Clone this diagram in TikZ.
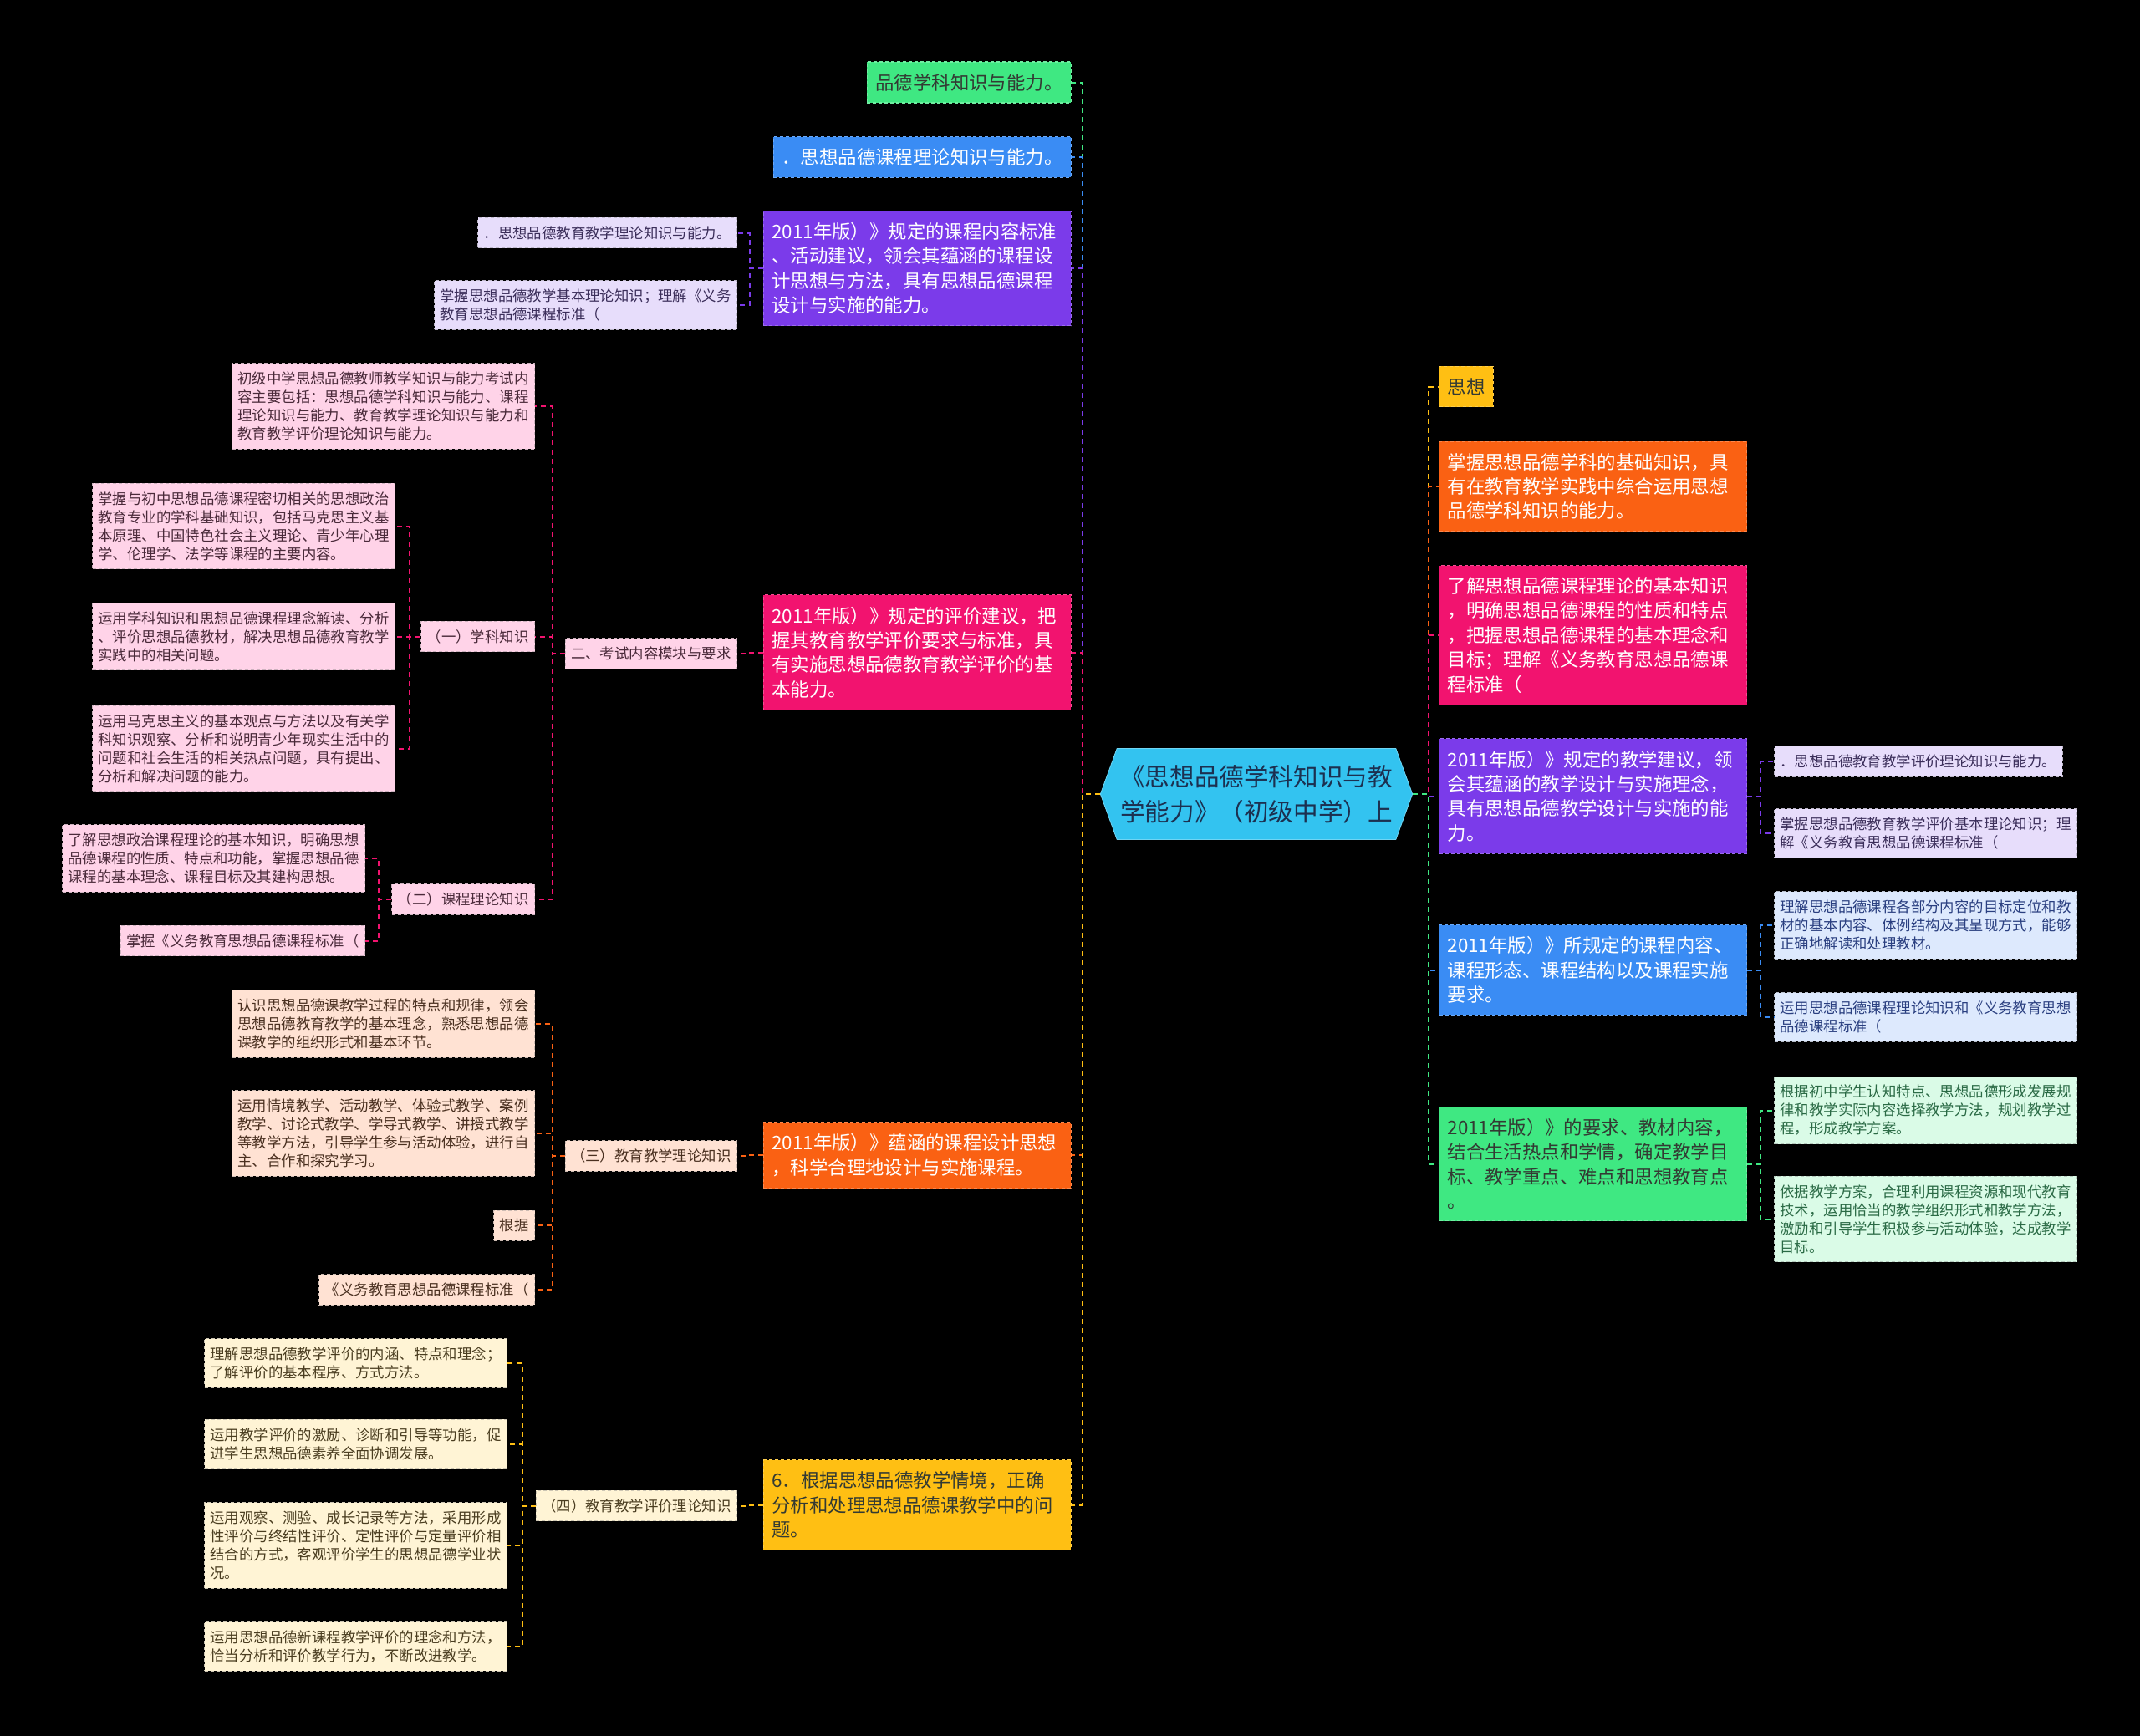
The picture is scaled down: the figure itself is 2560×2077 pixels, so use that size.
\documentclass[tikz,border=0pt]{standalone}
\usepackage{fontspec}
\setmainfont{Noto Sans CJK SC}
\usepackage{tikz}
\usetikzlibrary{shapes.symbols}
\definecolor{mapgreen}{HTML}{3FE882}
\definecolor{mapblue}{HTML}{3A8CF4}
\definecolor{mappurple}{HTML}{7B3BEA}
\definecolor{mapmagenta}{HTML}{F2136F}
\definecolor{maporange}{HTML}{FA6113}
\definecolor{mapyellow}{HTML}{FFBF13}
\definecolor{mapcyan}{HTML}{33C3F0}
\definecolor{lilac}{HTML}{E7DDFB}
\definecolor{rose}{HTML}{FFD3E8}
\definecolor{peach}{HTML}{FFE2D3}
\definecolor{cream}{HTML}{FFF4D5}
\definecolor{skylight}{HTML}{DDE9FD}
\definecolor{mint}{HTML}{DAFBE7}
\definecolor{rootink}{HTML}{1C3050}
\definecolor{darkink}{HTML}{333A33}
\definecolor{lilacink}{HTML}{3B2E5A}
\definecolor{roseink}{HTML}{4A2A3A}
\definecolor{peachink}{HTML}{4A3020}
\definecolor{creamink}{HTML}{4A3D20}
\definecolor{skyink}{HTML}{2A3F80}
\definecolor{mintink}{HTML}{2A6A45}

\begin{document}
\begin{tikzpicture}[
        x=0.5pt, y=-0.5pt,
        root/.style={shape=signal, signal to=west and east, signal pointer angle=140, fill=mapcyan, draw=mapcyan!70!white, minimum width=184pt, minimum height=54.5pt, inner sep=2pt, align=left, text=rootink, font=\fontsize{14.8}{21}\selectfont},
        branch/.style={fill=#1, draw=#1!75!white, dash pattern=on 2pt off 1.5pt, line width=0.6pt, inner xsep=5pt, inner ysep=7pt, align=left, text=white, font=\fontsize{11.2}{14.7}\selectfont},
        wbox/.style={text width=174pt},
        leaf/.style={fill=#1, draw=#1!60!gray, dash pattern=on 2pt off 1.5pt, line width=0.5pt, inner xsep=3.5pt, inner ysep=5pt, align=left, font=\fontsize{8.7}{11}\selectfont},
        link/.style={draw=#1, line width=1pt, dash pattern=on 3pt off 2.5pt},
        elbow/.style={to path={-- ++(#1,0) |- (\tikztotarget)}}
    ]
    \fill[black] (0,0) rectangle (2560,2077);

    \node[root] (root) at (1503,950) {《思想品德学科知识与教\\学能力》（初级中学）上};

    % left side
    \node[branch=mapgreen, text=darkink, anchor=east] (lknow) at (1282,98.5) {品德学科知识与能力。};
    \node[branch=mapblue, anchor=east] (ltheory) at (1282,188) {．思想品德课程理论知识与能力。};
    \node[branch=mappurple, wbox, anchor=east] (lcontent) at (1282,321) {2011年版）》规定的课程内容标准\\、活动建议，领会其蕴涵的课程设\\计思想与方法，具有思想品德课程\\设计与实施的能力。};
    \node[branch=mapmagenta, wbox, anchor=east] (leval) at (1282,780.5) {2011年版）》规定的评价建议，把\\握其教育教学评价要求与标准，具\\有实施思想品德教育教学评价的基\\本能力。};
    \node[branch=maporange, wbox, anchor=east] (ldesign) at (1282,1382) {2011年版）》蕴涵的课程设计思想\\，科学合理地设计与实施课程。};
    \node[branch=mapyellow, wbox, text=darkink, anchor=east] (lsitu) at (1282,1800.5) {6．根据思想品德教学情境，正确\\分析和处理思想品德课教学中的问\\题。};

    \node[leaf=lilac, text=lilacink, anchor=east] (cont1) at (882,278.5) {．思想品德教育教学理论知识与能力。};
    \node[leaf=lilac, text=lilacink, anchor=east] (cont2) at (882,365) {掌握思想品德教学基本理论知识；理解《义务\\教育思想品德课程标准（};

    \node[leaf=rose, text=roseink, anchor=east] (module) at (882,782) {二、考试内容模块与要求};
    \node[leaf=rose, text=roseink, anchor=east] (scope) at (640,486) {初级中学思想品德教师教学知识与能力考试内\\容主要包括：思想品德学科知识与能力、课程\\理论知识与能力、教育教学理论知识与能力和\\教育教学评价理论知识与能力。};
    \node[leaf=rose, text=roseink, anchor=east] (subj) at (640,761.5) {（一）学科知识};
    \node[leaf=rose, text=roseink, anchor=east] (course) at (640,1076) {（二）课程理论知识};
    \node[leaf=rose, text=roseink, anchor=east] (subj1) at (473,629.5) {掌握与初中思想品德课程密切相关的思想政治\\教育专业的学科基础知识，包括马克思主义基\\本原理、中国特色社会主义理论、青少年心理\\学、伦理学、法学等课程的主要内容。};
    \node[leaf=rose, text=roseink, anchor=east] (subj2) at (473,761.5) {运用学科知识和思想品德课程理念解读、分析\\、评价思想品德教材，解决思想品德教育教学\\实践中的相关问题。};
    \node[leaf=rose, text=roseink, anchor=east] (subj3) at (473,895.5) {运用马克思主义的基本观点与方法以及有关学\\科知识观察、分析和说明青少年现实生活中的\\问题和社会生活的相关热点问题，具有提出、\\分析和解决问题的能力。};
    \node[leaf=rose, text=roseink, anchor=east] (course1) at (437,1027) {了解思想政治课程理论的基本知识，明确思想\\品德课程的性质、特点和功能，掌握思想品德\\课程的基本理念、课程目标及其建构思想。};
    \node[leaf=rose, text=roseink, anchor=east] (course2) at (437,1125.5) {掌握《义务教育思想品德课程标准（};

    \node[leaf=peach, text=peachink, anchor=east] (pedag) at (882,1383) {（三）教育教学理论知识};
    \node[leaf=peach, text=peachink, anchor=east] (pedag1) at (640,1225) {认识思想品德课教学过程的特点和规律，领会\\思想品德教育教学的基本理念，熟悉思想品德\\课教学的组织形式和基本环节。};
    \node[leaf=peach, text=peachink, anchor=east] (pedag2) at (640,1356) {运用情境教学、活动教学、体验式教学、案例\\教学、讨论式教学、学导式教学、讲授式教学\\等教学方法，引导学生参与活动体验，进行自\\主、合作和探究学习。};
    \node[leaf=peach, text=peachink, anchor=east] (pedag3) at (640,1466) {根据};
    \node[leaf=peach, text=peachink, anchor=east] (pedag4) at (640,1543) {《义务教育思想品德课程标准（};

    \node[leaf=cream, text=creamink, anchor=east] (assess) at (882,1801.5) {（四）教育教学评价理论知识};
    \node[leaf=cream, text=creamink, anchor=east] (assess1) at (607,1631) {理解思想品德教学评价的内涵、特点和理念；\\了解评价的基本程序、方式方法。};
    \node[leaf=cream, text=creamink, anchor=east] (assess2) at (607,1727.5) {运用教学评价的激励、诊断和引导等功能，促\\进学生思想品德素养全面协调发展。};
    \node[leaf=cream, text=creamink, anchor=east] (assess3) at (607,1849) {运用观察、测验、成长记录等方法，采用形成\\性评价与终结性评价、定性评价与定量评价相\\结合的方式，客观评价学生的思想品德学业状\\况。};
    \node[leaf=cream, text=creamink, anchor=east] (assess4) at (607,1970) {运用思想品德新课程教学评价的理念和方法，\\恰当分析和评价教学行为，不断改进教学。};

    % right side
    \node[branch=mapyellow, text=darkink, anchor=west] (rthink) at (1721,462.5) {思想};
    \node[branch=maporange, wbox, anchor=west] (rbasic) at (1721,582) {掌握思想品德学科的基础知识，具\\有在教育教学实践中综合运用思想\\品德学科知识的能力。};
    \node[branch=mapmagenta, wbox, anchor=west] (rtheory) at (1721,760) {了解思想品德课程理论的基本知识\\，明确思想品德课程的性质和特点\\，把握思想品德课程的基本理念和\\目标；理解《义务教育思想品德课\\程标准（};
    \node[branch=mappurple, wbox, anchor=west] (radvice) at (1721,952.5) {2011年版）》规定的教学建议，领\\会其蕴涵的教学设计与实施理念，\\具有思想品德教学设计与实施的能\\力。};
    \node[branch=mapblue, wbox, anchor=west] (rform) at (1721,1160.5) {2011年版）》所规定的课程内容、\\课程形态、课程结构以及课程实施\\要求。};
    \node[branch=mapgreen, wbox, text=darkink, anchor=west] (rgoal) at (1721,1392.5) {2011年版）》的要求、教材内容，\\结合生活热点和学情，确定教学目\\标、教学重点、难点和思想教育点\\。};

    \node[leaf=lilac, text=lilacink, anchor=west] (advice1) at (2122,911) {．思想品德教育教学评价理论知识与能力。};
    \node[leaf=lilac, text=lilacink, anchor=west] (advice2) at (2122,997) {掌握思想品德教育教学评价基本理论知识；理\\解《义务教育思想品德课程标准（};
    \node[leaf=skylight, text=skyink, anchor=west] (form1) at (2122,1107) {理解思想品德课程各部分内容的目标定位和教\\材的基本内容、体例结构及其呈现方式，能够\\正确地解读和处理教材。};
    \node[leaf=skylight, text=skyink, anchor=west] (form2) at (2122,1217) {运用思想品德课程理论知识和《义务教育思想\\品德课程标准（};
    \node[leaf=mint, text=mintink, anchor=west] (goal1) at (2122,1328.5) {根据初中学生认知特点、思想品德形成发展规\\律和教学实际内容选择教学方法，规划教学过\\程，形成教学方案。};
    \node[leaf=mint, text=mintink, anchor=west] (goal2) at (2122,1458.5) {依据教学方案，合理利用课程资源和现代教育\\技术，运用恰当的教学组织形式和教学方法，\\激励和引导学生积极参与活动体验，达成教学\\目标。};

    \draw[link=mapgreen] (root.west) to[elbow=-21] (lknow.east);
    \draw[link=mapblue] (root.west) to[elbow=-21] (ltheory.east);
    \draw[link=mappurple] (root.west) to[elbow=-21] (lcontent.east);
    \draw[link=mapmagenta] (root.west) to[elbow=-21] (leval.east);
    \draw[link=maporange] (root.west) to[elbow=-21] (ldesign.east);
    \draw[link=mapyellow] (root.west) to[elbow=-21] (lsitu.east);
    \draw[link=mappurple] (lcontent.west) to[elbow=-16] (cont1.east);
    \draw[link=mappurple] (lcontent.west) to[elbow=-16] (cont2.east);
    \draw[link=mapmagenta] (leval.west) to[elbow=-16] (module.east);
    \draw[link=mapmagenta] (module.west) to[elbow=-15] (scope.east);
    \draw[link=mapmagenta] (module.west) to[elbow=-15] (subj.east);
    \draw[link=mapmagenta] (module.west) to[elbow=-15] (course.east);
    \draw[link=mapmagenta] (subj.west) to[elbow=-13] (subj1.east);
    \draw[link=mapmagenta] (subj.west) to[elbow=-13] (subj2.east);
    \draw[link=mapmagenta] (subj.west) to[elbow=-13] (subj3.east);
    \draw[link=mapmagenta] (course.west) to[elbow=-15] (course1.east);
    \draw[link=mapmagenta] (course.west) to[elbow=-15] (course2.east);
    \draw[link=maporange] (ldesign.west) to[elbow=-16] (pedag.east);
    \draw[link=maporange] (pedag.west) to[elbow=-15] (pedag1.east);
    \draw[link=maporange] (pedag.west) to[elbow=-15] (pedag2.east);
    \draw[link=maporange] (pedag.west) to[elbow=-15] (pedag3.east);
    \draw[link=maporange] (pedag.west) to[elbow=-15] (pedag4.east);
    \draw[link=mapyellow] (lsitu.west) to[elbow=-16] (assess.east);
    \draw[link=mapyellow] (assess.west) to[elbow=-16] (assess1.east);
    \draw[link=mapyellow] (assess.west) to[elbow=-16] (assess2.east);
    \draw[link=mapyellow] (assess.west) to[elbow=-16] (assess3.east);
    \draw[link=mapyellow] (assess.west) to[elbow=-16] (assess4.east);

    \draw[link=mapyellow] (root.east) to[elbow=19] (rthink.west);
    \draw[link=maporange] (root.east) to[elbow=19] (rbasic.west);
    \draw[link=mapmagenta] (root.east) to[elbow=19] (rtheory.west);
    \draw[link=mappurple] (root.east) to[elbow=19] (radvice.west);
    \draw[link=mapblue] (root.east) to[elbow=19] (rform.west);
    \draw[link=mapgreen] (root.east) to[elbow=19] (rgoal.west);
    \draw[link=mappurple] (radvice.east) to[elbow=16] (advice1.west);
    \draw[link=mappurple] (radvice.east) to[elbow=16] (advice2.west);
    \draw[link=mapblue] (rform.east) to[elbow=16] (form1.west);
    \draw[link=mapblue] (rform.east) to[elbow=16] (form2.west);
    \draw[link=mapgreen] (rgoal.east) to[elbow=16] (goal1.west);
    \draw[link=mapgreen] (rgoal.east) to[elbow=16] (goal2.west);
\end{tikzpicture}
\end{document}
